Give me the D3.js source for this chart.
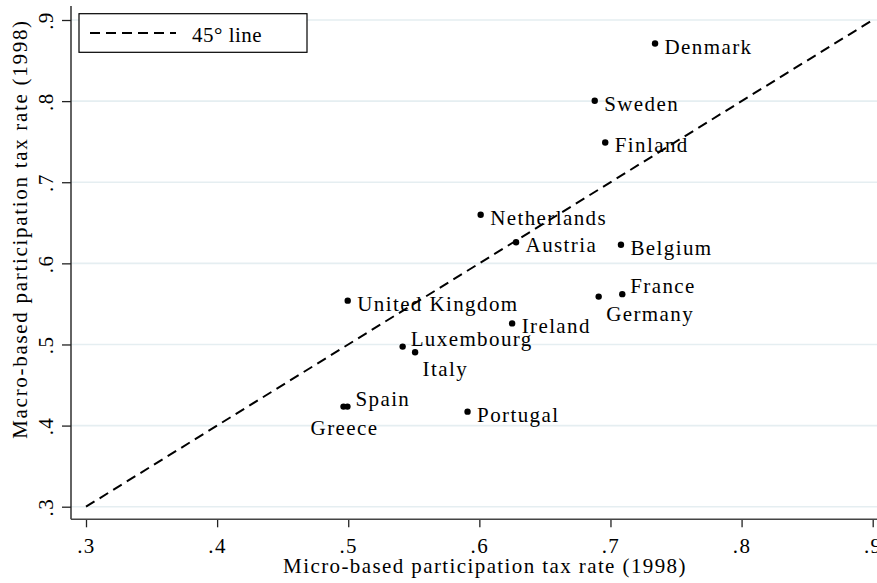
<!DOCTYPE html>
<html>
<head>
<meta charset="utf-8">
<script src="https://cdn.jsdelivr.net/npm/d3@7"></script>
<style>
  html, body { margin: 0; padding: 0; background: #fff; }
  svg { display: block; }
  text { font-family: "Liberation Serif", "Times New Roman", serif; fill: #000; }
</style>
</head>
<body>
<svg id="chart" width="877" height="583"></svg>
<script>
// ---- data ----
const countries = ["Denmark","Sweden","Finland","Netherlands","Austria","Belgium","France","Germany",
                   "United Kingdom","Ireland","Luxembourg","Italy","Spain","Greece","Portugal"];
const microRate = [0.734,0.688,0.696,0.601,0.628,0.708,0.709,0.691,0.4996,0.625,0.5415,0.551,0.4994,0.4964,0.591];
const macroRate = [0.871,0.8005,0.749,0.660,0.626,0.623,0.562,0.559,0.554,0.526,0.4974,0.4904,0.4234,0.4234,0.4172];
const labelClock = [3,3,3,3,3,3,2,5,3,3,2,5,2,6,3];
const xTicks = [0.3,0.4,0.5,0.6,0.7,0.8,0.9];
const yTicks = [0.3,0.4,0.5,0.6,0.7,0.8,0.9];
const diagonal = [0.3,0.9];
const legendLabel = "45° line";
const xTitle = "Micro-based participation tax rate (1998)";
const yTitle = "Macro-based participation tax rate (1998)";

// ---- layout ----
const svg = d3.select("#chart");
const W = 877, H = 583;
const plotLeft = 71, plotBottom = 519.3, plotTop = 6;
const x = d3.scaleLinear().domain([0.3,0.9]).range([86,872.7]);
const y = d3.scaleLinear().domain([0.3,0.9]).range([506.7,20]);
const fmt = d => d3.format(".1f")(d).replace(/^0/,"");
const FS = 21, LS = "1.4px";

// gridlines
svg.append("g").selectAll("line").data(yTicks).join("line")
  .attr("x1", plotLeft).attr("x2", W)
  .attr("y1", d => y(d)).attr("y2", d => y(d))
  .attr("stroke", "#e5eef1").attr("stroke-width", 1.6);

// y axis
const yAxis = svg.append("g").attr("transform", `translate(${plotLeft},0)`)
  .call(d3.axisLeft(y).tickValues(yTicks).tickFormat(fmt).tickSize(9).tickPadding(0));
yAxis.select(".domain").remove();
yAxis.selectAll(".tick line").attr("stroke", "#222").attr("stroke-width", 1.3);
yAxis.selectAll(".tick text")
  .attr("x", 0).attr("y", 0)
  .attr("transform", "translate(-18,0) rotate(-90)")
  .attr("text-anchor", "middle").attr("dy", 0)
  .style("font-family", '"Liberation Serif", serif').style("font-size", FS + "px")
  .style("letter-spacing", LS).attr("fill", "#000");
svg.append("line").attr("x1", plotLeft).attr("x2", plotLeft).attr("y1", plotTop).attr("y2", plotBottom)
  .attr("stroke", "#222").attr("stroke-width", 1.4);

// x axis
const xAxis = svg.append("g").attr("transform", `translate(0,${plotBottom})`)
  .call(d3.axisBottom(x).tickValues(xTicks).tickFormat(fmt).tickSize(8).tickPadding(0));
xAxis.select(".domain").remove();
xAxis.selectAll(".tick line").attr("stroke", "#222").attr("stroke-width", 1.3);
xAxis.selectAll(".tick text")
  .attr("y", 34).attr("dy", 0)
  .style("font-family", '"Liberation Serif", serif').style("font-size", FS + "px")
  .style("letter-spacing", LS).attr("fill", "#000");
svg.append("line").attr("x1", plotLeft).attr("x2", W).attr("y1", plotBottom).attr("y2", plotBottom)
  .attr("stroke", "#444").attr("stroke-width", 1.6);

// axis titles
svg.append("text").attr("x", 485).attr("y", 573).attr("text-anchor", "middle")
  .style("font-size", FS + "px").style("letter-spacing", LS).text(xTitle);
svg.append("text").attr("transform", "translate(27,229) rotate(-90)").attr("text-anchor", "middle")
  .style("font-size", FS + "px").style("letter-spacing", "1.7px").text(yTitle);

// points
const pts = countries.map((c,i) => ({c, mx: microRate[i], my: macroRate[i], pos: labelClock[i]}));
svg.append("g").selectAll("circle").data(pts).join("circle")
  .attr("cx", d => x(d.mx)).attr("cy", d => y(d.my)).attr("r", 3.2).attr("fill", "#000");

// labels
const off = {3: {dx: 9.5, dy: 10, a: "start"}, 2: {dx: 8, dy: -1, a: "start"},
             5: {dx: 7.5, dy: 24, a: "start"}, 6: {dx: 1, dy: 28, a: "middle"}};
svg.append("g").selectAll("text").data(pts).join("text")
  .attr("x", d => x(d.mx) + off[d.pos].dx)
  .attr("y", d => y(d.my) + off[d.pos].dy)
  .attr("text-anchor", d => off[d.pos].a)
  .style("font-size", FS + "px").style("letter-spacing", LS)
  .text(d => d.c);

// 45 degree line
svg.append("line")
  .attr("x1", x(diagonal[0])).attr("y1", y(diagonal[0]))
  .attr("x2", x(diagonal[1])).attr("y2", y(diagonal[1]))
  .attr("stroke", "#000").attr("stroke-width", 2).attr("stroke-dasharray", "10,6");

// legend
const lg = svg.append("g");
lg.append("rect").attr("x", 79).attr("y", 13.7).attr("width", 228).attr("height", 38.6)
  .attr("fill", "#fff").attr("stroke", "#000").attr("stroke-width", 1.2);
lg.append("line").attr("x1", 90).attr("x2", 176).attr("y1", 33).attr("y2", 33)
  .attr("stroke", "#000").attr("stroke-width", 2).attr("stroke-dasharray", "10,6");
lg.append("text").attr("x", 192).attr("y", 41.5)
  .style("font-size", FS + "px").style("letter-spacing", "0.5px").text(legendLabel);
</script>
</body>
</html>
